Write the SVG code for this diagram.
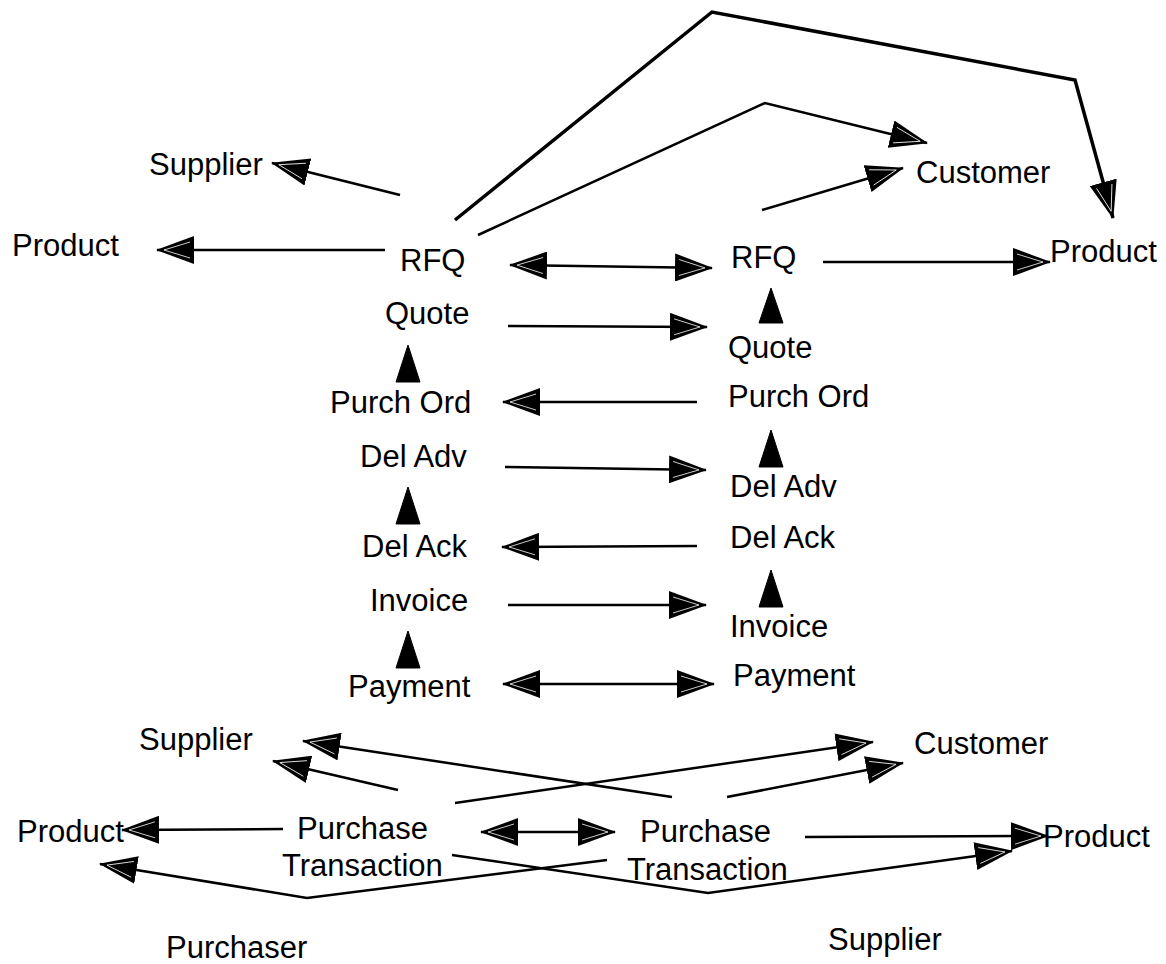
<svg xmlns="http://www.w3.org/2000/svg" width="1166" height="964" viewBox="0 0 1166 964">
<style>
text{font-family:"Liberation Sans",Arial,sans-serif;font-size:31px;fill:#000}
.c{fill:none;stroke:#000;stroke-width:2.5;marker-end:url(#ah)}
.d{marker-start:url(#ah)}
.t{stroke-width:3.5}
.tri{fill:#000;stroke:#000;stroke-width:1}
</style>
<defs>
<marker id="ah" viewBox="0 0 38 28" refX="37" refY="14" markerWidth="38" markerHeight="28" markerUnits="userSpaceOnUse" orient="auto-start-reverse">
<path d="M0,0 L38,14 L0,28 Z" fill="#000"/>
<path d="M4,6 L30,14 L4,22" fill="none" stroke="#fff" stroke-width="0.8"/>
</marker>
</defs>
<rect width="1166" height="964" fill="#fff"/>
<g id="connectors">
<path class="c" d="M400,195 L272,163"/>
<path class="c" d="M385,250 L157,250"/>
<path class="c d" d="M510,265 L712,268"/>
<path class="c t" d="M455,220 L712,12 L1075,80 L1113,218"/>
<path class="c" d="M478,235 L765,103 L927,143"/>
<path class="c" d="M762,210 L903,168"/>
<path class="c" d="M823,262 L1050,262"/>
<path class="c" d="M508,326 L707,327"/>
<path class="c" d="M697,402 L503,402"/>
<path class="c" d="M505,467 L706,470"/>
<path class="c" d="M697,546 L502,547"/>
<path class="c" d="M508,605 L706,605"/>
<path class="c d" d="M503,684 L714,684"/>
<polygon class="tri" points="771,288 759,323 783,323"/>
<polygon class="tri" points="408,345 396,382 420,382"/>
<polygon class="tri" points="771,430 759,467 783,467"/>
<polygon class="tri" points="408,487 396,524 420,524"/>
<polygon class="tri" points="771,570 759,607 783,607"/>
<polygon class="tri" points="408,631 396,668 420,668"/>
<path class="c" d="M672,797 L303,741"/>
<path class="c" d="M398,790 L273,761"/>
<path class="c" d="M455,803 L873,742"/>
<path class="c" d="M727,797 L903,763"/>
<path class="c" d="M283,829 L122,830"/>
<path class="c d" d="M481,832 L615,832"/>
<path class="c" d="M805,837 L1048,836"/>
<path class="c" d="M452,855 L708,893 L1012,851"/>
<path class="c" d="M607,860 L307,898 L100,864"/>
</g>
<g id="supplier-top"><text x="149" y="175">Supplier</text></g>
<g id="product-top-left"><text x="12" y="256">Product</text></g>
<g id="rfq-left"><text x="400" y="271">RFQ</text></g>
<g id="quote-left"><text x="385" y="324">Quote</text></g>
<g id="purchord-left"><text x="330" y="413">Purch Ord</text></g>
<g id="deladv-left"><text x="360" y="467">Del Adv</text></g>
<g id="delack-left"><text x="362" y="557">Del Ack</text></g>
<g id="invoice-left"><text x="370" y="611">Invoice</text></g>
<g id="payment-left"><text x="348" y="697">Payment</text></g>
<g id="customer-top"><text x="916" y="183">Customer</text></g>
<g id="product-top-right"><text x="1050" y="262">Product</text></g>
<g id="rfq-right"><text x="731" y="268">RFQ</text></g>
<g id="quote-right"><text x="728" y="358">Quote</text></g>
<g id="purchord-right"><text x="728" y="407">Purch Ord</text></g>
<g id="deladv-right"><text x="730" y="497">Del Adv</text></g>
<g id="delack-right"><text x="730" y="548">Del Ack</text></g>
<g id="invoice-right"><text x="730" y="637">Invoice</text></g>
<g id="payment-right"><text x="733" y="686">Payment</text></g>
<g id="supplier-bottom-left"><text x="139" y="750">Supplier</text></g>
<g id="customer-bottom"><text x="914" y="754">Customer</text></g>
<g id="product-bottom-left"><text x="17" y="842">Product</text></g>
<g id="purchase-transaction-left"><text x="297" y="839">Purchase</text><text x="282" y="876">Transaction</text></g>
<g id="purchase-transaction-right"><text x="640" y="842">Purchase</text><text x="627" y="880">Transaction</text></g>
<g id="product-bottom-right"><text x="1043" y="847">Product</text></g>
<g id="purchaser"><text x="166" y="958">Purchaser</text></g>
<g id="supplier-bottom-right"><text x="828" y="950">Supplier</text></g>
</svg>
